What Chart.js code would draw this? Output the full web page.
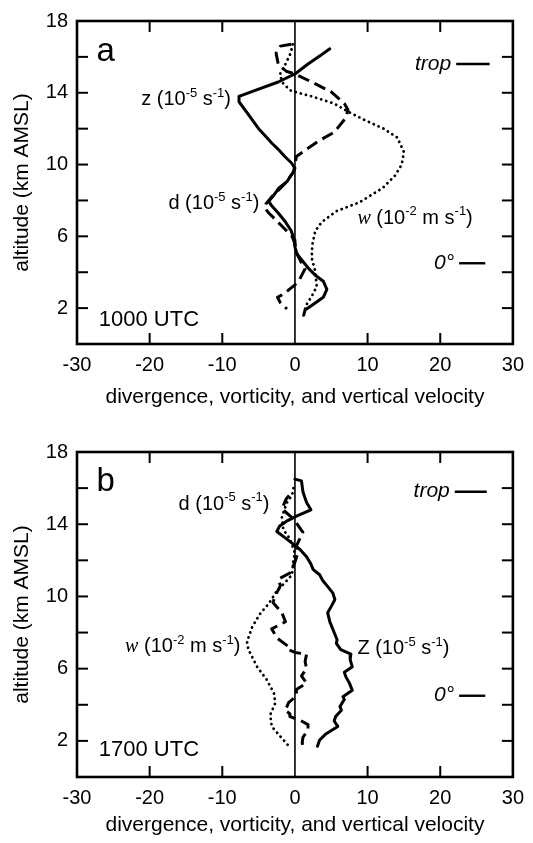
<!DOCTYPE html>
<html>
<head>
<meta charset="utf-8">
<script src="https://cdn.jsdelivr.net/npm/chart.js@4.4.1/dist/chart.umd.min.js"></script>
<style>
  html, body { margin: 0; padding: 0; background: #fff; }
  #wrap { position: relative; width: 533px; height: 843px; }
  canvas { position: absolute; left: 0; }
</style>
</head>
<body>
<div id="wrap">
  <canvas id="chartA" width="533" height="421" style="top:0"></canvas>
  <canvas id="chartB" width="533" height="422" style="top:421px"></canvas>
</div>
<script>
// ---- panel a : 1000 UTC ----
// vorticity z (10^-5 s^-1)
const aZetaAlt = [16.45,16.1,15.6,15.05,14.6,14.2,13.8,13.5,13.0,12.5,12.0,11.6,11.2,10.85,10.45,10.1,9.8,9.6,9.05,8.7,8.3,7.95,7.7,7.3,6.8,6.3,5.8,5.4,5.0,4.6,4.2,3.8,3.5,3.05,2.6,2.2,1.9,1.6];
const aZetaVal = [4.8,3.6,1.8,0,-2.3,-5.0,-7.7,-7.7,-6.8,-5.9,-5.0,-4.1,-3.2,-2.3,-1.4,-0.5,0,-0.2,-1.1,-2.2,-2.9,-3.6,-3.2,-2.3,-1.3,-0.5,-0.1,0,0.3,1.1,1.9,2.9,3.9,4.4,3.9,2.5,1.4,1.2];
// divergence d (10^-5 s^-1)
const aDivAlt = [16.7,16.6,16.2,15.6,15.2,15.05,14.6,14.05,13.4,13.05,12.6,11.8,11.3,10.8,10.45,10.0,9.6,9.05,8.6,8.2,7.8,7.6,7.3,6.9,6.45,6.0,5.6,5.1,4.6,4.2,3.8,3.5,3.3,3.0,2.8,2.6,2.3,1.95];
const aDivVal = [-0.5,-2.0,-2.6,-2.3,-1.2,0,2.3,5.0,6.8,7.3,7.0,5.4,3.2,1.4,0.2,0,-0.2,-1.1,-2.2,-3.2,-4.0,-4.2,-3.6,-2.6,-1.5,-0.4,0,0.2,0.8,1.4,0.9,0.5,0,-0.9,-1.5,-2.4,-2.0,-1.1];
// vertical velocity w (10^-2 m s^-1)
const aWAlt = [16.7,16.2,15.6,15.0,14.5,14.1,13.8,13.4,12.95,12.5,12.0,11.5,10.7,10.0,9.4,8.7,7.9,7.4,6.8,6.3,5.55,4.8,4.05,3.2,2.65,2.2,1.7];
const aWVal = [-0.3,-0.6,-1.3,-2.1,-1.6,-0.5,2.3,5.4,7.3,9.5,12.2,14.1,15.0,14.7,13.8,12.1,8.9,5.7,3.7,2.8,2.4,2.3,2.8,3.0,2.3,1.6,1.2];

// ---- panel b : 1700 UTC ----
const bZetaAlt = [16.5,16.4,15.8,15.2,14.8,14.45,14.2,13.9,13.6,13.2,12.6,12.2,11.8,11.5,11.2,10.9,10.5,10.2,9.83,9.45,9.1,8.6,8.0,7.6,7.4,7.05,6.8,6.5,6.1,5.8,5.56,5.2,4.8,4.45,4.3,3.9,3.7,3.35,3.1,2.8,2.4,2.05,1.7];
const bZetaVal = [0,0.9,1.1,1.6,2.2,0.2,-1.0,-2.1,-2.5,-1.2,0.7,1.6,2.2,2.5,3.4,3.8,4.6,5.2,5.5,5.0,4.5,4.8,5.4,5.8,5.7,6.3,7.7,7.6,7.9,6.8,7.0,7.5,7.9,6.6,6.8,6.2,6.4,5.6,5.4,5.9,4.3,3.4,3.1];
const bDivAlt = [15.6,15.4,14.85,14.3,13.55,12.8,12.4,11.9,11.3,10.95,10.6,10.2,9.83,9.65,9.1,8.6,8.2,8.0,7.7,7.2,7.05,6.9,6.8,6.4,6.0,5.6,5.2,4.85,4.5,4.1,3.9,3.7,3.5,3.35,3.1,2.9,2.6,2.5,2.2,1.9,1.7];
const bDivVal = [-0.8,-1.2,-1.8,-0.2,1.1,0.2,0.4,0,-0.7,-2.3,-2.0,-2.5,-2.9,-3.0,-1.8,-1.3,-3.2,-2.9,-2.5,-0.8,-0.9,0,1.6,1.4,1.6,0.9,1.6,0.2,0.2,-0.9,-1.1,-1.4,-0.7,-0.7,0.9,1.8,1.8,1.6,1.1,1.0,1.1];
const bWAlt = [16.0,15.6,15.2,14.4,13.7,13.2,12.4,12.05,11.2,10.8,10.3,9.6,9.1,8.3,7.5,7.05,6.1,5.4,4.65,4.1,3.45,2.8,2.15,1.65];
const bWVal = [-0.2,-0.4,-1.1,-1.8,-1.6,-0.7,0,-0.2,-0.4,-1.3,-2.5,-3.6,-4.7,-5.9,-6.6,-6.4,-5.2,-3.9,-2.9,-2.7,-3.4,-3.2,-1.8,-0.7];

// axes
const xTickVals = [-30, -20, -10, 0, 10, 20, 30];
const xInnerTicks = [-20, -10, 10, 20];
const yInnerTicks = [2, 4, 6, 8, 10, 12, 14, 16];
const yLabelVals = [2, 6, 10, 14, 18];
const zeroLineAlt = [0, 18];
const xTitle = 'divergence, vorticity, and vertical velocity';
const yTitle = 'altitude (km AMSL)';

// reference levels (km)
const aTropAlt = 15.6, bTropAlt = 15.8;
const aFreezeAlt = 4.5, bFreezeAlt = 4.5;

const SANS = '"Liberation Sans", Arial, sans-serif';
const SERIF = '"Liberation Serif", "Times New Roman", serif';
Chart.defaults.font.family = SANS;
Chart.defaults.color = '#000';

function pts(vals, alts) {
  return vals.map((v, i) => ({ x: v, y: alts[i] }));
}

function unitLabel(sym, exp, unit, italicSerif) {
  return [
    { t: sym, italic: italicSerif, serif: italicSerif },
    { t: ' (10' },
    { t: exp, sup: true },
    { t: ' ' + unit },
    { t: '-1', sup: true },
    { t: ')' }
  ];
}

function partFont(p, size) {
  const s = p.sup ? Math.round(size * 0.65) : size;
  return (p.italic ? 'italic ' : '') + s + 'px ' + (p.serif ? SERIF : SANS);
}

function drawParts(ctx, parts, px, py, align, size) {
  let total = 0;
  parts.forEach(p => { ctx.font = partFont(p, size); p.w = ctx.measureText(p.t).width; total += p.w; });
  let cx = align === 'right' ? px - total : px;
  const base = py + size * 0.36;
  ctx.textAlign = 'left';
  ctx.textBaseline = 'alphabetic';
  parts.forEach(p => {
    ctx.font = partFont(p, size);
    ctx.fillText(p.t, cx, p.sup ? base - size * 0.42 : base);
    cx += p.w;
  });
}

const framePlugin = {
  id: 'frame',
  afterDatasetsDraw(chart, args, opts) {
    const { ctx, chartArea: a, scales: { x, y } } = chart;
    ctx.save();
    ctx.strokeStyle = '#000';
    ctx.fillStyle = '#000';
    ctx.lineCap = 'butt';
    const seg = (x1, y1, x2, y2) => { ctx.beginPath(); ctx.moveTo(x1, y1); ctx.lineTo(x2, y2); ctx.stroke(); };
    ctx.lineWidth = 2;
    yInnerTicks.forEach(v => {
      const py = y.getPixelForValue(v);
      seg(a.left, py, a.left + 11, py);
      seg(a.right - 11, py, a.right, py);
    });
    xInnerTicks.forEach(v => {
      const px = x.getPixelForValue(v);
      seg(px, a.bottom, px, a.bottom - 11);
      seg(px, a.top, px, a.top + 11);
    });
    ctx.lineWidth = 2.6;
    ctx.strokeRect(a.left, a.top, a.right - a.left, a.bottom - a.top);

    // reference level markers
    ctx.lineWidth = 2.4;
    opts.levels.forEach(l => {
      const py = y.getPixelForValue(l.alt);
      seg(x.getPixelForValue(l.x1), py, x.getPixelForValue(l.x2), py);
      drawParts(ctx, l.parts, x.getPixelForValue(l.x1) - 5, py - 2, 'right', 21);
    });

    // text labels
    opts.labels.forEach(l => {
      drawParts(ctx, l.parts, x.getPixelForValue(l.x), y.getPixelForValue(l.y), l.align, l.size);
    });
    ctx.restore();
  }
};

function makeChart(id, series, padTop, axisH, titlePadBottom, extra) {
  const lineBase = { showLine: true, pointRadius: 0, borderColor: '#000', tension: 0, borderJoinStyle: 'round' };
  new Chart(document.getElementById(id), {
    type: 'scatter',
    data: {
      datasets: [
        Object.assign({}, lineBase, { label: 'zero', data: pts([0, 0], zeroLineAlt), borderWidth: 1.6 }),
        Object.assign({}, lineBase, { label: 'z', data: series.z, borderWidth: 3, borderCapStyle: 'round' }),
        Object.assign({}, lineBase, { label: 'd', data: series.d, borderWidth: 3, borderDash: [12, 6] }),
        Object.assign({}, lineBase, { label: 'w', data: series.w, borderWidth: 2.8, borderDash: [0.1, 5.2], borderCapStyle: 'round' })
      ]
    },
    options: {
      responsive: false,
      animation: false,
      layout: { padding: { top: padTop, right: 15, left: 0, bottom: 0 } },
      scales: {
        x: {
          type: 'linear', min: -30, max: 30,
          afterFit: s => { s.height = axisH; },
          afterBuildTicks: s => { s.ticks = xTickVals.map(v => ({ value: v })); },
          grid: { display: false, drawTicks: false },
          border: { display: false },
          ticks: { font: { size: 20 }, padding: 9, maxRotation: 0, autoSkip: false },
          title: { display: true, text: xTitle, font: { size: 21 }, padding: { top: 0, bottom: titlePadBottom } }
        },
        y: {
          type: 'linear', min: 0, max: 18,
          afterFit: s => { s.width = 77; },
          afterBuildTicks: s => { s.ticks = yLabelVals.map(v => ({ value: v })); },
          grid: { display: false, drawTicks: false },
          border: { display: false },
          ticks: { font: { size: 20 }, padding: 9, autoSkip: false },
          title: { display: true, text: yTitle, font: { size: 21 }, padding: { top: 10, bottom: 0 } }
        }
      },
      plugins: {
        legend: { display: false },
        tooltip: { enabled: false },
        frame: extra
      }
    },
    plugins: [framePlugin]
  });
}

const tropParts = [{ t: 'trop', italic: true }];
const freezeParts = [{ t: '0°', italic: true }];

makeChart('chartA',
  { z: pts(aZetaVal, aZetaAlt), d: pts(aDivVal, aDivAlt), w: pts(aWVal, aWAlt) },
  19, 77, 11,
  {
    levels: [
      { alt: aTropAlt, x1: 22.2, x2: 26.8, parts: tropParts },
      { alt: aFreezeAlt, x1: 22.6, x2: 26.2, parts: freezeParts }
    ],
    labels: [
      { x: -27.3, y: 16.45, align: 'left', size: 33, parts: [{ t: 'a' }] },
      { x: -27.0, y: 1.45, align: 'left', size: 22, parts: [{ t: '1000 UTC' }] },
      { x: -8.8, y: 13.7, align: 'right', size: 20, parts: unitLabel('z', '-5', 's', false) },
      { x: -4.9, y: 7.9, align: 'right', size: 20, parts: unitLabel('d', '-5', 's', false) },
      { x: 8.6, y: 7.1, align: 'left', size: 20, parts: unitLabel('w', '-2', 'm s', true) }
    ]
  });

makeChart('chartB',
  { z: pts(bZetaVal, bZetaAlt), d: pts(bDivVal, bDivAlt), w: pts(bWVal, bWAlt) },
  31, 66, 5,
  {
    levels: [
      { alt: bTropAlt, x1: 22.0, x2: 26.4, parts: tropParts },
      { alt: bFreezeAlt, x1: 22.6, x2: 26.2, parts: freezeParts }
    ],
    labels: [
      { x: -27.3, y: 16.5, align: 'left', size: 33, parts: [{ t: 'b' }] },
      { x: -27.0, y: 1.6, align: 'left', size: 22, parts: [{ t: '1700 UTC' }] },
      { x: -3.5, y: 15.2, align: 'right', size: 20, parts: unitLabel('d', '-5', 's', false) },
      { x: -7.5, y: 7.3, align: 'right', size: 20, parts: unitLabel('w', '-2', 'm s', true) },
      { x: 8.6, y: 7.2, align: 'left', size: 20, parts: unitLabel('Z', '-5', 's', false) }
    ]
  });
</script>
</body>
</html>
